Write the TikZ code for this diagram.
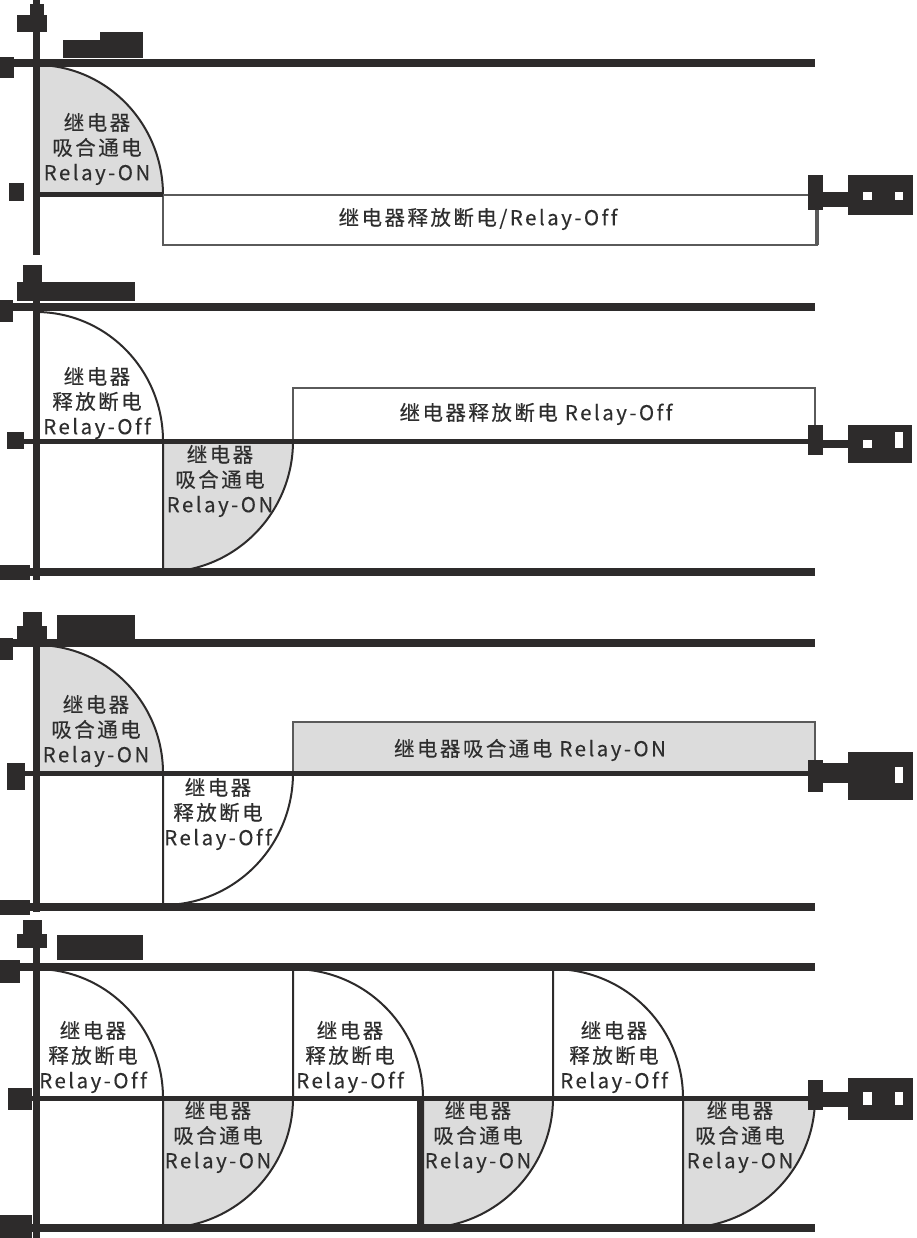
\documentclass[tikz,border=0pt]{standalone}
\usepackage{fontspec}
\newfontfamily\lblfont[LetterSpace=12,Ligatures=NoCommon,FakeBold=0.3]{Noto Sans CJK SC}
\definecolor{ink}{HTML}{2D2B2B}
\definecolor{ongray}{HTML}{DCDCDC}
\definecolor{txt}{HTML}{2E2E2E}
\definecolor{edge}{HTML}{5A5A5A}
\tikzset{
  axisline/.style={draw=ink, line width=7pt},
  thickline/.style={draw=ink, line width=8pt},
  zeroline/.style={draw=ink, line width=5pt},
  qon/.style={fill=ongray, draw=ink, line width=2pt},
  qoff/.style={fill=white, draw=ink, line width=2pt},
  onbox/.style={fill=ongray, draw=edge, line width=2.5pt},
  offbox/.style={fill=white, draw=edge, line width=2pt},
  lbl/.style={font=\lblfont\fontsize{20.5}{25}\selectfont, text=txt, align=center, inner sep=0pt},
  blob/.style={fill=ink, draw=none},
  hole/.style={fill=white, draw=none}
}
\begin{document}
\begin{tikzpicture}[x=1pt,y=-1pt]
\useasboundingbox (0,0) rectangle (916,1238);
\fill[white] (0,0) rectangle (916,1238);

% ================= Panel 1 =================
\filldraw[qon] (36,195) -- (36,65) arc[start angle=-90,end angle=0,x radius=127,y radius=130] -- cycle;
\filldraw[offbox] (163,195) rectangle (817,245);
\draw[draw=edge, line width=4pt] (817,195) -- (817,245);
\draw[thickline] (0,63) -- (815,63);
\draw[zeroline] (36,195) -- (163,195);
\draw[axisline] (36,0) -- (36,255);
% blobs
\fill[blob] (17,15) rectangle (47,32);
\fill[blob] (30,4) rectangle (44,17);
\fill[blob] (63,40) rectangle (143,58);
\fill[blob] (100,32) rectangle (143,42);
\fill[blob] (0,57) rectangle (14,78);
\fill[blob] (9,183) rectangle (24,201);
\fill[blob] (808,175) rectangle (823,210);
\fill[blob] (823,192) rectangle (848,207);
\fill[blob] (848,175) rectangle (913,215);
\fill[hole] (863,192) rectangle (872,200);
\fill[hole] (895,192) rectangle (903,200);
\node[lbl] (p1q1) at (97,149) {继电器\\吸合通电\\Relay-ON};
\node[lbl] (p1box) at (478,219) {继电器释放断电/Relay-Off};

% ================= Panel 2 =================
\filldraw[qoff] (36,441) -- (36,312) arc[start angle=-90,end angle=0,x radius=127,y radius=129] -- cycle;
\filldraw[offbox] (293,388) rectangle (815,441);
\filldraw[qon] (163,441) -- (293,441) arc[start angle=0,end angle=90,x radius=130,y radius=131] -- cycle;
\draw[thickline] (0,307) -- (815,307);
\draw[zeroline] (20,441) -- (815,441);
\draw[thickline] (0,572) -- (815,572);
\draw[axisline] (36,265) -- (36,580);
\fill[blob] (23,265) rectangle (42,282);
\fill[blob] (17,282) rectangle (135,301);
\fill[blob] (0,300) rectangle (13,322);
\fill[blob] (7,432) rectangle (24,449);
\fill[blob] (0,565) rectangle (30,580);
\fill[blob] (808,425) rectangle (823,455);
\fill[blob] (823,440) rectangle (848,448);
\fill[blob] (848,425) rectangle (912,463);
\fill[hole] (863,440) rectangle (872,448);
\fill[hole] (895,432) rectangle (903,448);
\node[lbl] (p2q1) at (97,403) {继电器\\释放断电\\Relay-Off};
\node[lbl] (p2q2) at (220,481) {继电器\\吸合通电\\Relay-ON};
\node[lbl] (p2box) at (536,414) {继电器释放断电 Relay-Off};

% ================= Panel 3 =================
\filldraw[qon] (36,773) -- (36,645) arc[start angle=-90,end angle=0,x radius=127,y radius=128] -- cycle;
\filldraw[onbox] (293,722) rectangle (815,773);
\filldraw[qoff] (163,773) -- (293,773) arc[start angle=0,end angle=90,x radius=130,y radius=132] -- cycle;
\draw[thickline] (0,643) -- (815,643);
\draw[zeroline] (20,773) -- (815,773);
\draw[thickline] (0,907) -- (815,907);
\draw[axisline] (36,612) -- (36,912);
\fill[blob] (23,612) rectangle (42,628);
\fill[blob] (17,626) rectangle (47,640);
\fill[blob] (57,615) rectangle (135,640);
\fill[blob] (0,638) rectangle (13,660);
\fill[blob] (7,763) rectangle (25,790);
\fill[blob] (0,900) rectangle (30,915);
\fill[blob] (808,760) rectangle (823,792);
\fill[blob] (823,763) rectangle (848,783);
\fill[blob] (848,752) rectangle (913,800);
\fill[hole] (895,767) rectangle (903,783);
\node[lbl] (p3q1) at (96,731) {继电器\\吸合通电\\Relay-ON};
\node[lbl] (p3q2) at (218,814) {继电器\\释放断电\\Relay-Off};
\node[lbl] (p3box) at (530,750) {继电器吸合通电 Relay-ON};

% ================= Panel 4 =================
\filldraw[qoff] (36,1098) -- (36,969) arc[start angle=-90,end angle=0,x radius=127,y radius=129] -- cycle;
\filldraw[qoff] (293,1098) -- (293,969) arc[start angle=-90,end angle=0,x radius=130,y radius=129] -- cycle;
\filldraw[qoff] (553,1098) -- (553,969) arc[start angle=-90,end angle=0,x radius=130,y radius=129] -- cycle;
\filldraw[qon] (163,1098) -- (293,1098) arc[start angle=0,end angle=90,x radius=130,y radius=130] -- cycle;
\filldraw[qon] (423,1098) -- (553,1098) arc[start angle=0,end angle=90,x radius=130,y radius=130] -- cycle;
\filldraw[qon] (683,1098) -- (815,1098) arc[start angle=0,end angle=90,x radius=132,y radius=130] -- cycle;
\draw[axisline] (420,1098) -- (420,1228);
\draw[thickline] (0,967) -- (815,967);
\draw[zeroline] (20,1098) -- (815,1098);
\draw[thickline] (0,1228) -- (815,1228);
\draw[axisline] (36,925) -- (36,1238);
\fill[blob] (23,920) rectangle (42,936);
\fill[blob] (17,934) rectangle (47,948);
\fill[blob] (57,935) rectangle (143,960);
\fill[blob] (0,960) rectangle (20,983);
\fill[blob] (8,1088) rectangle (32,1110);
\fill[blob] (0,1215) rectangle (32,1238);
\fill[blob] (808,1080) rectangle (823,1110);
\fill[blob] (823,1092) rectangle (848,1107);
\fill[blob] (848,1078) rectangle (913,1120);
\fill[hole] (863,1092) rectangle (872,1105);
\fill[hole] (895,1092) rectangle (903,1105);
\node[lbl] (p4q1) at (93,1057) {继电器\\释放断电\\Relay-Off};
\node[lbl] (p4q3) at (350,1057) {继电器\\释放断电\\Relay-Off};
\node[lbl] (p4q5) at (614,1057) {继电器\\释放断电\\Relay-Off};
\node[lbl] (p4q2) at (218,1137) {继电器\\吸合通电\\Relay-ON};
\node[lbl] (p4q4) at (478,1137) {继电器\\吸合通电\\Relay-ON};
\node[lbl] (p4q6) at (740,1137) {继电器\\吸合通电\\Relay-ON};
\end{tikzpicture}
\end{document}
